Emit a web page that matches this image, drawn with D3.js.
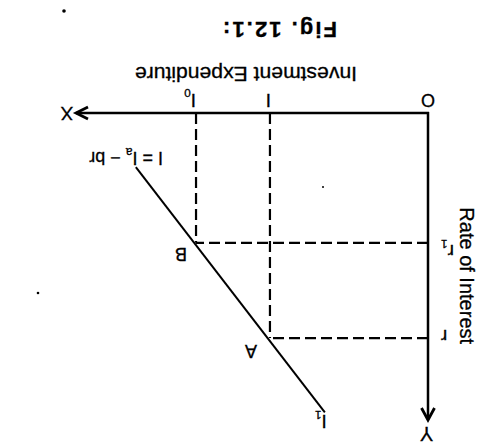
<!DOCTYPE html>
<html>
<head>
<meta charset="utf-8">
<script src="https://cdn.jsdelivr.net/npm/d3@7"></script>
<style>
  html, body { margin: 0; padding: 0; background: #fff; }
  svg { display: block; }
  text { font-family: "Liberation Sans", Arial, Helvetica, sans-serif; fill: #000; stroke: #000; stroke-width: 0.3; }
</style>
</head>
<body>
<div id="fig"></div>
<script>
// investment levels on the X axis (I, I0)
const investValues = [4.49, 6.59];
const investLabels = ['I', 'I'];
const investSubs = ['', '0'];

// rates of interest on the Y axis (r, r1)
const rateValues = [7.33, 4.23];
const rateLabels = ['r', 'r'];
const rateSubs = ['', '1'];

// equilibrium points where the guides meet the schedule
const pointLabels = ['A', 'B'];

// investment demand schedule I1 (investment, rate)
const demandInvest = [2.93, 8.30];
const demandRate = [9.75, 1.76];

const title = 'Fig. 12.1:';
const xTitle = 'Investment Expenditure';
const yTitle = 'Rate of Interest';

const width = 481;
const height = 445;

// the scanned page is upside down, so the whole figure is drawn turned 180deg
const svg = d3.select('#fig').append('svg')
	.attr('width', width)
	.attr('height', height);

const g = svg.append('g')
	.attr('transform', `rotate(180 ${width / 2} ${height / 2})`);

const x = d3.scaleLinear().domain([0, 10]).range([53, 405]);
const y = d3.scaleLinear().domain([0, 10]).range([332, 25]);

drawGuides();
drawAxes();
drawSchedule();
addLabels();
addSpecks();

function drawAxes() {
	const axes = g.append('g')
		.attr('fill', 'none')
		.attr('stroke', '#000')
		.attr('stroke-width', 2.5);

	axes.append('line')
		.attr('x1', x(0) - 1).attr('y1', y(0))
		.attr('x2', x(10)).attr('y2', y(0));
	axes.append('line')
		.attr('x1', x(0)).attr('y1', y(0) + 1)
		.attr('x2', x(0)).attr('y2', y(10));

	// open chevron arrow heads
	axes.append('path')
		.attr('stroke-width', 2.8)
		.attr('d', `M${x(10) - 12},${y(0) - 6}L${x(10)},${y(0)}L${x(10) - 12},${y(0) + 6}`);
	axes.append('path')
		.attr('stroke-width', 2.8)
		.attr('d', `M${x(0) - 6.5},${y(10) + 12}L${x(0)},${y(10)}L${x(0) + 6.5},${y(10) + 12}`);
}

function drawGuides() {
	const guides = g.append('g')
		.attr('stroke', '#000')
		.attr('stroke-width', 2.2)
		.attr('stroke-dasharray', '11,5');

	guides.selectAll('.vguide')
		.data(investValues)
		.enter().append('line')
			.attr('class', 'vguide')
			.attr('x1', d => x(d)).attr('y1', y(0))
			.attr('x2', d => x(d)).attr('y2', (d, i) => y(rateValues[i]));

	guides.selectAll('.hguide')
		.data(rateValues)
		.enter().append('line')
			.attr('class', 'hguide')
			.attr('x1', x(0)).attr('y1', d => y(d))
			.attr('x2', (d, i) => x(investValues[i])).attr('y2', d => y(d));
}

function drawSchedule() {
	const pts = demandInvest.map((d, i) => [d, demandRate[i]]);
	g.append('path')
		.datum(pts)
		.attr('fill', 'none')
		.attr('stroke', '#000')
		.attr('stroke-width', 2)
		.attr('d', d3.line().x(d => x(d[0])).y(d => y(d[1])));
}

function label(parent, text, sub, xPos, yPos, size, anchor) {
	const t = parent.append('text')
		.attr('x', xPos)
		.attr('y', yPos)
		.attr('font-size', size)
		.attr('text-anchor', anchor || 'middle');
	t.append('tspan').text(text);
	if (sub) {
		t.append('tspan')
			.attr('font-size', size * 0.62)
			.attr('dy', size * 0.25)
			.text(sub);
	}
	return t;
}

function addLabels() {
	const labels = g.append('g').attr('class', 'labels');

	labels.append('text')
		.attr('x', 144)
		.attr('y', 423)
		.attr('font-size', 22)
		.attr('font-weight', 'bold')
		.attr('textLength', 114)
		.attr('lengthAdjust', 'spacing')
		.text(title);

	labels.append('text')
		.attr('x', 124)
		.attr('y', y(0) + 46)
		.attr('font-size', 20)
		.attr('textLength', 222)
		.attr('lengthAdjust', 'spacingAndGlyphs')
		.text(xTitle);

	labels.append('text')
		.attr('transform', `translate(21,${y(5.3)}) rotate(-90)`)
		.attr('font-size', 20)
		.attr('text-anchor', 'middle')
		.text(yTitle);

	label(labels, 'O', '', x(0), y(0) + 19, 18);
	label(labels, 'X', '', x(10) + 9, y(0) + 6, 19);
	label(labels, 'Y', '', x(0) + 1.5, y(10) - 7, 20);

	investValues.forEach((d, i) => {
		label(labels, investLabels[i], investSubs[i], x(d) + (investSubs[i] ? 6 : 1.5), y(0) + 19, 19);
	});

	// r sits a little low and r1 a little high on the scan
	const rateNudge = [8, -2];
	rateValues.forEach((d, i) => {
		label(labels, rateLabels[i], rateSubs[i], x(0) - 13, y(d) + rateNudge[i], 19, 'end');
	});

	pointLabels.forEach((p, i) => {
		label(labels, p, '', x(investValues[i]) + (i ? 15 : 19), y(rateValues[i]) + (i ? -5 : -7), 18);
	});

	label(labels, 'I', '1', x(demandInvest[0]) + 4, y(demandRate[0]) - 3, 19);

	const eq = labels.append('text')
		.attr('x', 318)
		.attr('y', 293)
		.attr('font-size', 18);
	eq.append('tspan').text('I = I');
	eq.append('tspan').attr('font-size', 12).attr('dy', 4).text('a');
	eq.append('tspan').attr('dy', -4).text(' \u2212 br');
}

function addSpecks() {
	// stray marks on the scan
	g.append('circle').attr('cx', 417).attr('cy', 434).attr('r', 1.8);
	g.append('circle').attr('cx', 443).attr('cy', 152).attr('r', 1.3);
	g.append('circle').attr('cx', 158).attr('cy', 258).attr('r', 1);
}
</script>
</body>
</html>
